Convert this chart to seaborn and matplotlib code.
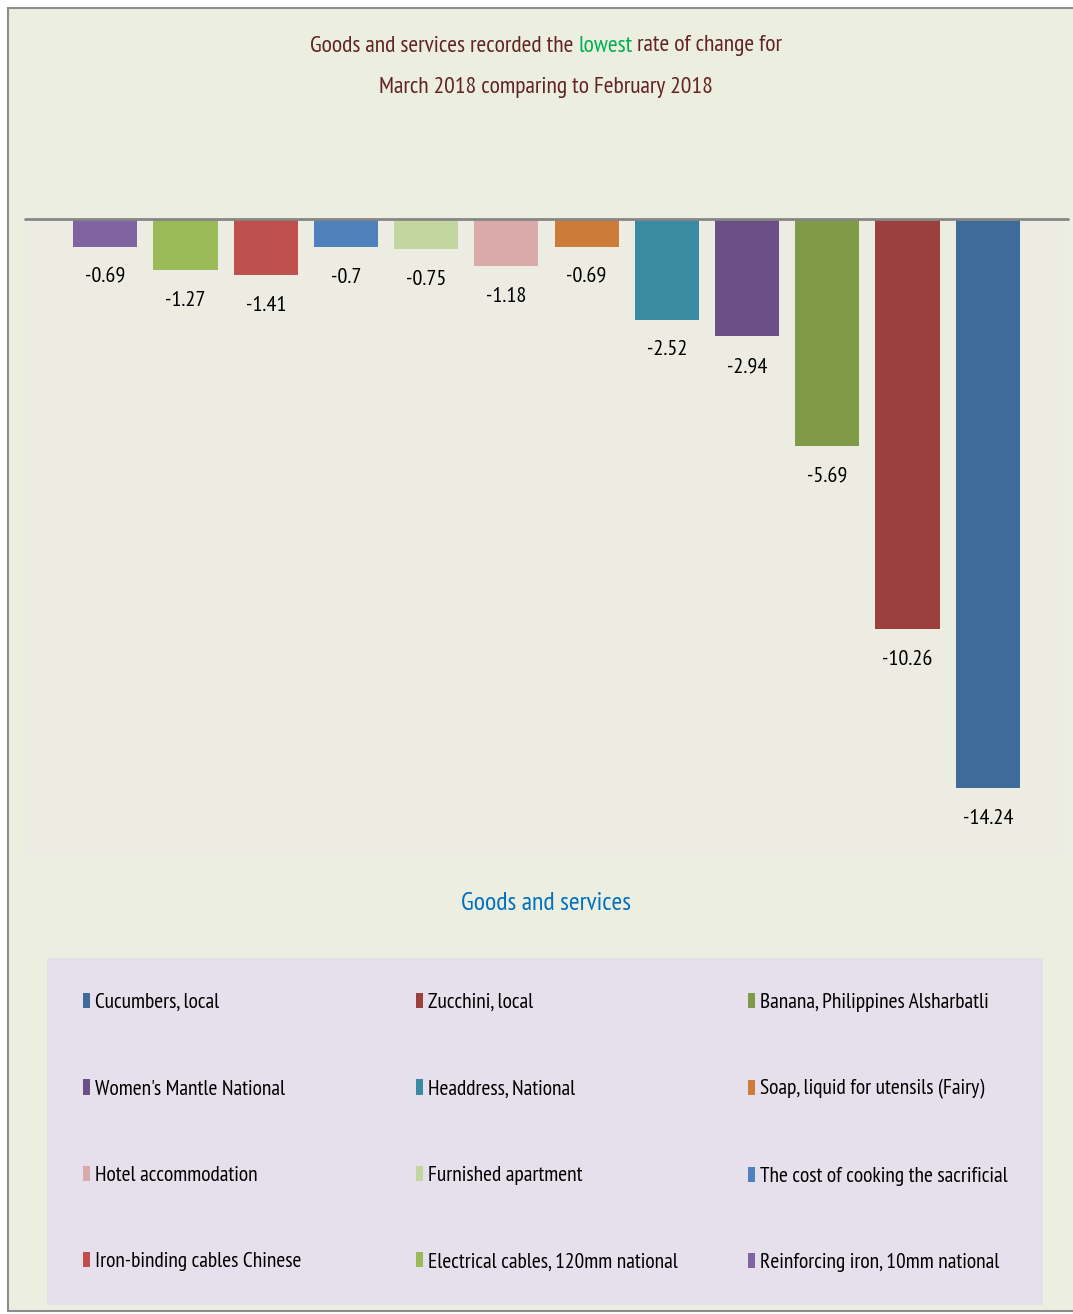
import seaborn as sns
import pandas as pd
import matplotlib.pyplot as plt
from matplotlib.patches import Rectangle, Patch

# bars, left to right
items = ['Reinforcing iron, 10mm national', 'Electrical cables, 120mm national',
         'Iron-binding cables Chinese', 'The cost of cooking the sacrificial',
         'Furnished apartment', 'Hotel accommodation', 'Soap, liquid for utensils (Fairy)',
         'Headdress, National', "Women's Mantle National", 'Banana, Philippines Alsharbatli',
         'Zucchini, local', 'Cucumbers, local']
values = [-0.69, -1.27, -1.41, -0.7, -0.75, -1.18, -0.69, -2.52, -2.94, -5.69, -10.26, -14.24]
colors = ['#8064A2', '#9BBB59', '#C0504D', '#4F81BD', '#C4D6A0', '#DAA9A9',
          '#CC7B38', '#3A8BA2', '#6A5087', '#7F9B48', '#9C403D', '#3F6B9B']
legend_order = items[::-1]

sns.set_style('white')
plt.rcParams['font.family'] = ['PT Sans Narrow', 'Liberation Sans', 'DejaVu Sans']

W, H = 1073, 1314
fig = plt.figure(figsize=(W / 100, H / 100), dpi=100)
fig.patch.set_facecolor('white')

def fx(px):
    return px / W

def fy(py):
    return 1 - py / H

# chart area and legend box backgrounds
fig.add_artist(Rectangle((fx(8), fy(1311)), fx(1085) - fx(8), (1311 - 8) / H,
                         transform=fig.transFigure, facecolor='#ECEFE0',
                         edgecolor='#8C8C8C', lw=1.5, zorder=-5))
fig.add_artist(Rectangle((fx(47), fy(1305)), fx(1043) - fx(47), (1305 - 958) / H,
                         transform=fig.transFigure, facecolor='#E6E0EC',
                         edgecolor='none', zorder=-4))

ax = fig.add_axes([fx(25), fy(858), fx(1068) - fx(25), (858 - 219) / H])
ax.set_facecolor('#EDECE2')

df = pd.DataFrame({'item': items, 'value': values})
palette = dict(zip(items, colors))
sns.barplot(data=df, x='item', y='value', hue='item', order=items, hue_order=items,
            palette=palette, saturation=1, width=0.8, linewidth=0, legend=False, ax=ax)

for c in ax.containers:
    ax.bar_label(c, fmt='%g', padding=15, fontsize=16, color='black')

ax.set_xlim(-1, 12)
ax.set_ylim(-16, 0)
ax.axhline(0, color='#868686', lw=2, clip_on=False)
for s in ax.spines.values():
    s.set_visible(False)
ax.set_xticks([])
ax.set_yticks([])
ax.set_xlabel('')
ax.set_ylabel('')

# title with one green word
dark = '#632523'
parts = [('Goods and services recorded the ', dark), ('lowest', '#00B050'),
         (' rate of change for', dark)]
renderer = fig.canvas.get_renderer()
texts = [fig.text(0, fy(46), s, color=col, fontsize=17, ha='left', va='center')
         for s, col in parts]
widths = [t.get_window_extent(renderer).width for t in texts]
x = 546 - sum(widths) / 2
for t, w in zip(texts, widths):
    t.set_x(fx(x))
    x += w
fig.text(fx(546), fy(88), 'March 2018 comparing to February 2018', color=dark,
         fontsize=17, ha='center', va='center')

fig.text(fx(546), fy(904), 'Goods and services', color='#0070C0', fontsize=18.5,
         ha='center', va='center')

# legend, three columns filled row-wise
for i, x0 in enumerate([83, 416, 748]):
    names = legend_order[i::3]
    handles = [Patch(facecolor=palette[n], edgecolor='none') for n in names]
    fig.legend(handles, names, loc='upper left', bbox_to_anchor=(fx(x0), fy(993)),
               frameon=False, fontsize=15.5, labelspacing=3.13, handlelength=0.32,
               handleheight=0.7, handletextpad=0.25, borderpad=0, borderaxespad=0,
               labelcolor='black')

fig.savefig('out.png', dpi=100)
